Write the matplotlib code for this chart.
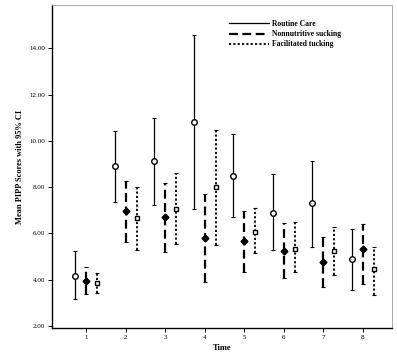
import numpy as np
import matplotlib.pyplot as plt

times = [1, 2, 3, 4, 5, 6, 7, 8]
series = ["Routine Care", "Nonnutritive sucking", "Facilitated tucking"]

rc_mean = [4.17, 8.91, 9.14, 10.83, 8.48, 6.89, 7.30, 4.88]
rc_low = [3.17, 7.36, 7.23, 7.04, 6.70, 5.28, 5.40, 3.56]
rc_high = [5.25, 10.44, 10.98, 14.57, 10.28, 8.57, 9.14, 6.19]

ns_mean = [3.94, 6.97, 6.72, 5.81, 5.69, 5.25, 4.78, 5.31]
ns_low = [3.38, 5.63, 5.21, 3.89, 4.35, 4.06, 3.70, 3.81]
ns_high = [4.56, 8.26, 8.18, 7.70, 6.98, 6.44, 5.83, 6.41]

ft_mean = [3.86, 6.67, 7.07, 8.02, 6.07, 5.34, 5.25, 4.45]
ft_low = [3.43, 5.28, 5.54, 5.50, 5.14, 4.35, 4.20, 3.34]
ft_high = [4.29, 8.00, 8.60, 10.48, 7.10, 6.48, 6.29, 5.43]

plt.rcParams["font.family"] = ["Liberation Serif", "DejaVu Serif"]

fig = plt.figure(figsize=(3.97, 3.54), dpi=100)
ax = fig.add_axes([0.131, 0.073, 0.856, 0.913])

offsets = [-0.28, 0.0, 0.28]
styles = [
    dict(ls="-", lw=0.9, marker="o", mfc="white", ms=4),
    dict(ls=(0, (4, 2)), lw=1.6, marker="D", mfc="black", ms=3.5),
    dict(ls=(0, (1.2, 1.2)), lw=1.3, marker="s", mfc="white", ms=3.5),
]
data = [(rc_mean, rc_low, rc_high), (ns_mean, ns_low, ns_high), (ft_mean, ft_low, ft_high)]

handles = []
for name, (m, lo, hi), off, st in zip(series, data, offsets, styles):
    m = np.array(m)
    yerr = [m - np.array(lo), np.array(hi) - m]
    x = np.array(times) + off
    cont = ax.errorbar(x, m, yerr=yerr, fmt="none", ecolor="black",
                       elinewidth=st["lw"], capsize=1.2, capthick=0.8)
    cont[2][0].set_linestyle(st["ls"])
    ax.plot(x, m, ls="none", marker=st["marker"], mfc=st["mfc"], mec="black",
            mew=1.0, ms=st["ms"])
    h, = ax.plot([], [], color="black", ls=st["ls"], lw=st["lw"], label=name)
    handles.append(h)

ax.set_xlim(0.14, 8.73)
ax.set_ylim(1.91, 15.87)
ax.set_xticks(times)
ax.set_xticklabels([str(t) for t in times], fontsize=5)
ax.set_yticks([2, 4, 6, 8, 10, 12, 14])
ax.set_yticklabels(["2.00", "4.00", "6.00", "8.00", "10.00", "12.00", "14.00"], fontsize=5)
ax.tick_params(length=3, width=0.7, pad=2)
ax.set_xlabel("Time", fontsize=6, fontweight="bold", labelpad=3)
ax.set_ylabel("Mean PIPP Scores with 95% CI", fontsize=6, fontweight="bold", labelpad=4)

ax.spines["left"].set_linewidth(1.0)
ax.spines["bottom"].set_linewidth(1.0)
for s in ["top", "right"]:
    ax.spines[s].set_linewidth(0.6)
    ax.spines[s].set_color("#999999")
    ax.spines[s].set_linestyle((0, (1, 1)))

leg = ax.legend(handles=handles, loc="upper left", bbox_to_anchor=(0.5, 0.975),
                frameon=False, handlelength=5.2, handletextpad=0.5,
                labelspacing=0.3, prop={"weight": "bold", "size": 5.5})

fig.savefig("out.png", dpi=100)
